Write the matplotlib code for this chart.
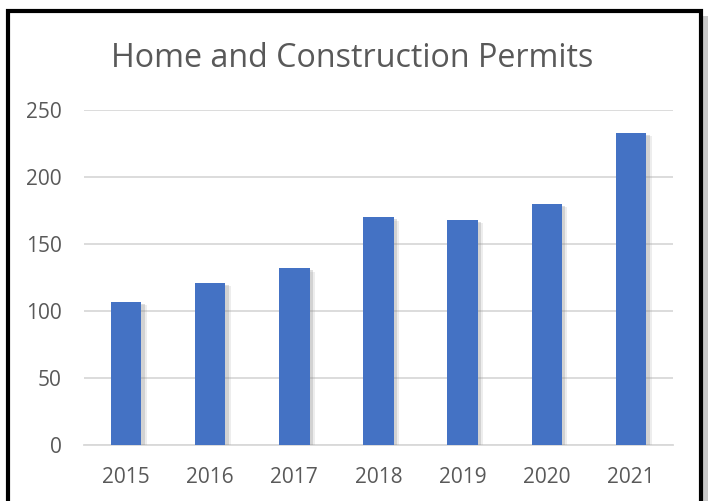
import matplotlib
matplotlib.use("Agg")
import matplotlib.pyplot as plt
from matplotlib.patches import Rectangle
import matplotlib.patheffects as pe

years = ["2015", "2016", "2017", "2018", "2019", "2020", "2021"]
permits = [107, 121, 132, 170, 168, 180, 233]
yticks = [0, 50, 100, 150, 200, 250]
title = "Home and Construction Permits"

W, H = 708, 501
plt.rcParams['font.family'] = ['Open Sans', 'DejaVu Sans']
fig = plt.figure(figsize=(W / 100, H / 100), dpi=100)
fig.patch.set_facecolor("white")

def fx(px):
    return px / W

def fy(py):
    return 1 - py / H

# outer frame shadow and frame
fig.patches.append(Rectangle((fx(703), fy(H + 5)), fx(5), fy(16) - fy(H + 5),
                             transform=fig.transFigure, facecolor="#c8c8c8",
                             edgecolor="none", zorder=0))
fig.patches.append(Rectangle((fx(8), fy(H + 10)), fx(701 - 8), fy(11) - fy(H + 10),
                             transform=fig.transFigure, facecolor="none",
                             edgecolor="black", linewidth=3.0, zorder=1))

ax = fig.add_axes([fx(84), 1 - 445 / H, fx(673 - 84), (445 - 110) / H])
ax.set_facecolor("none")
x = list(range(len(years)))
shadow = [pe.SimplePatchShadow(offset=(2.5, -1.5), shadow_rgbFace="#7f7f7f", alpha=0.25),
          pe.SimplePatchShadow(offset=(4, -2.5), shadow_rgbFace="#9f9f9f", alpha=0.18),
          pe.Normal()]
bars = ax.bar(x, permits, width=0.36, color="#4472C4", zorder=3)
for b in bars:
    b.set_path_effects(shadow)

ax.set_xlim(-0.5, len(years) - 0.5)
ax.set_ylim(0, 250)
ax.set_yticks(yticks)
ax.set_xticks(x)
ax.set_xticklabels(years)
ax.grid(axis="y", color="#d9d9d9", linewidth=1.3, zorder=0)
ax.set_axisbelow(True)
for s in ["left", "right", "top"]:
    ax.spines[s].set_visible(False)
ax.spines["bottom"].set_color("#d9d9d9")
ax.spines["bottom"].set_linewidth(1.3)
ax.tick_params(axis="both", length=0, labelsize=15, labelcolor="#595959")
ax.tick_params(axis="y", pad=16)
ax.tick_params(axis="x", pad=16)

fig.text(fx(352), fy(67), title, ha="center", va="baseline", fontsize=23.2,
         color="#595959")

fig.savefig("out.png", dpi=100, facecolor="white")
